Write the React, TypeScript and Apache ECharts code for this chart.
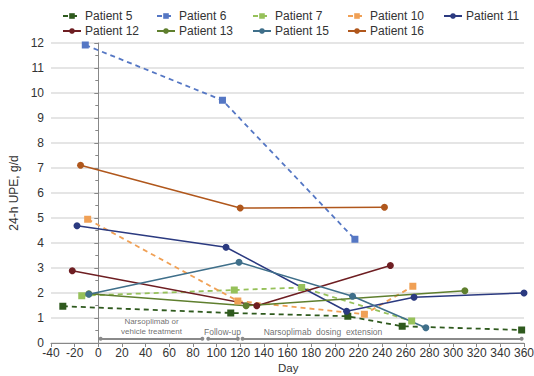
import React, { useEffect, useRef } from "react";
import * as echarts from "echarts";

const patientNames = ["Patient 5", "Patient 6", "Patient 7", "Patient 10", "Patient 11", "Patient 12", "Patient 13", "Patient 15", "Patient 16"];

const p5: [number, number][] = [[-30, 1.47], [112, 1.2], [211, 1.07], [257, 0.67], [358, 0.52]];
const p6: [number, number][] = [[-11, 11.92], [105, 9.71], [217, 4.15]];
const p7: [number, number][] = [[-14, 1.89], [115, 2.12], [172, 2.22], [265, 0.88]];
const p10: [number, number][] = [[-9, 4.95], [118, 1.68], [225, 1.15], [266, 2.27]];
const p11: [number, number][] = [[-18, 4.69], [108, 3.83], [210, 1.27], [267, 1.83], [360, 2.0]];
const p12: [number, number][] = [[-22, 2.89], [134, 1.49], [247, 3.1]];
const p13: [number, number][] = [[-8, 1.97], [125, 1.49], [310, 2.09]];
const p15: [number, number][] = [[-8, 1.95], [119, 3.23], [215, 1.87], [277, 0.61]];
const p16: [number, number][] = [[-15, 7.11], [120, 5.4], [242, 5.43]];

const seriesData = [p5, p6, p7, p10, p11, p12, p13, p15, p16];
const dashed = [true, true, true, true, false, false, false, false, false];
const colors = ["#2f5a1e", "#5577c4", "#96c15a", "#f0a055", "#2b3a80", "#6e1e22", "#5f7f2e", "#3f6f8a", "#b0571c"];

const phaseLabels = ["Narsoplimab or\nvehicle treatment", "Follow-up", "Narsoplimab  dosing  extension"];
const phaseStart = [2, 93, 122];
const phaseEnd = [88, 118, 358];
const phaseY = 0.17;
const phaseLabelX = [45, 105, 190];
const phaseLabelY = [0.66, 0.46, 0.44];
const phaseFontSize = [8, 8.5, 8.5];

const xTicks = { min: -40, max: 360, interval: 20 };
const yTicks = { min: 0, max: 12, interval: 1 };
const xAxisName = "Day";
const yAxisName = "24-h UPE, g/d";

const legendLeft = [62, 156, 252, 347, 443];
const legendTop = [10, 25];

export default function App() {
  const ref = useRef<HTMLDivElement>(null);
  useEffect(() => {
    const chart = echarts.init(ref.current!, null, { renderer: "svg" });
    const font = "Liberation Sans, Arial, sans-serif";
    const legends = patientNames.map((n, i) => {
      const row = i < 5 ? 0 : 1;
      const col = i < 5 ? i : i - 5;
      return {
        data: [n],
        left: legendLeft[col],
        top: legendTop[row],
        itemWidth: 18,
        itemHeight: 7,
        padding: 0,
        textStyle: { fontSize: 12, fontFamily: font, color: "#333", padding: [0, 0, 0, -1] },
      };
    });
    const series: any[] = patientNames.map((n, i) => ({
      name: n,
      type: "line",
      data: seriesData[i],
      symbol: dashed[i] ? "rect" : "circle",
      symbolSize: 7,
      itemStyle: { color: colors[i] },
      lineStyle: { color: colors[i], width: dashed[i] ? 1.8 : 1.5, type: dashed[i] ? [5, 4] : "solid" },
      z: 3,
    }));
    series.push({
      name: "phases",
      type: "line",
      data: [],
      markLine: {
        silent: true,
        symbol: ["circle", "circle"],
        symbolSize: 4,
        lineStyle: { color: "#8a8a8a", width: 2, type: "solid" },
        label: { show: false },
        data: phaseLabels.map((lab, i) => [
          { coord: [phaseStart[i], phaseY] },
          { coord: [phaseEnd[i], phaseY] },
        ]),
      },
    });
    series.push({
      name: "phaseLabels",
      type: "scatter",
      symbolSize: 0,
      silent: true,
      data: phaseLabels.map((lab, i) => ({
        value: [phaseLabelX[i], phaseLabelY[i]],
        label: { formatter: lab, fontSize: phaseFontSize[i] },
      })),
      label: {
        show: true,
        position: "inside",
        fontFamily: font,
        color: "#4a4a4a",
        lineHeight: 10,
      },
    });
    chart.setOption({
      animation: false,
      legend: legends,
      grid: { left: 51, right: 10, top: 43, bottom: 33, outerBoundsMode: "none", containLabel: false },
      graphic: [
        {
          type: "text",
          left: 278,
          top: 362,
          style: { text: xAxisName, fontSize: 11.5, fontFamily: font, fill: "#333" },
        },
      ],
      xAxis: {
        type: "value",
        min: xTicks.min,
        max: xTicks.max,
        interval: xTicks.interval,
        axisLine: { show: true, onZero: false, lineStyle: { color: "#888" } },
        axisTick: { show: true, length: 4, lineStyle: { color: "#888" } },
        axisLabel: { fontSize: 12, fontFamily: font, color: "#333", margin: 4 },
        splitLine: { show: false },
      },
      yAxis: {
        type: "value",
        min: yTicks.min,
        max: yTicks.max,
        interval: yTicks.interval,
        name: yAxisName,
        nameLocation: "middle",
        nameGap: 26,
        nameTextStyle: { fontSize: 12, fontFamily: font, color: "#333" },
        axisLine: { show: true, lineStyle: { color: "#888" } },
        axisTick: { show: true, length: 4, lineStyle: { color: "#888" } },
        minorTick: { show: true, splitNumber: 2, length: 3, lineStyle: { color: "#888" } },
        axisLabel: { fontSize: 12, fontFamily: font, color: "#333", margin: 7 },
        splitLine: { show: true, lineStyle: { color: "#dcdcdc", width: 1.5 } },
      },
      series,
    });
    return () => chart.dispose();
  }, []);
  return <div ref={ref} style={{ width: 534, height: 376, position: "absolute", left: 0, top: 0, background: "#fff" }} />;
}
